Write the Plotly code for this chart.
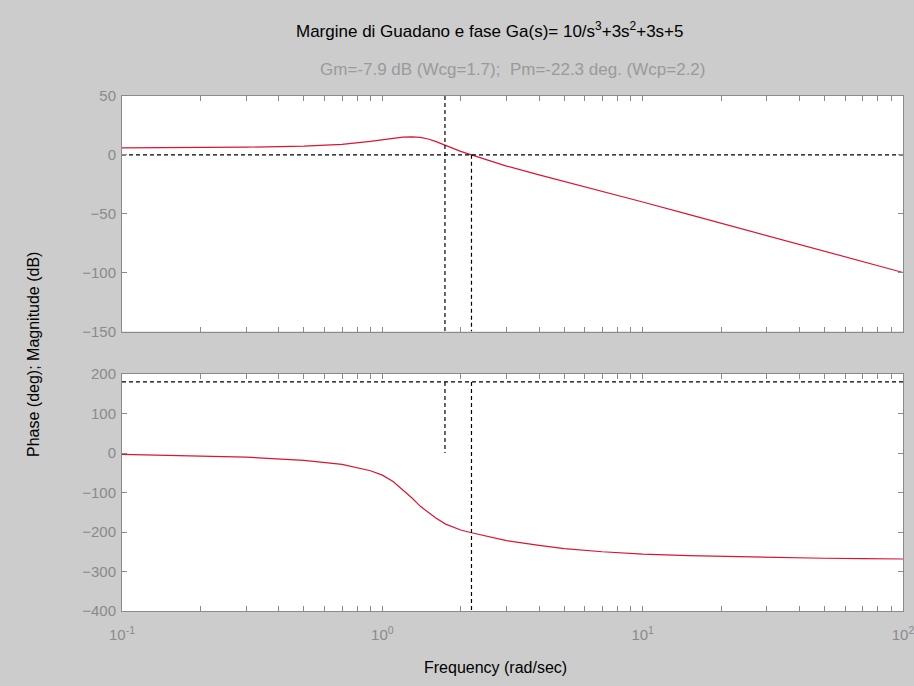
import plotly.graph_objects as go

# ---- data ----
freq = [0.1, 0.2, 0.3, 0.5, 0.7, 0.9, 1.0, 1.1, 1.2, 1.3, 1.4, 1.5, 1.6, 1.75,
        2.0, 2.2, 2.5, 3.0, 4.0, 5.0, 7.0, 10, 15, 20, 30, 50, 70, 100]
mag_db = [6.0, 6.2, 6.5, 7.5, 9.0, 11.5, 12.5, 14.0, 15.0, 15.3, 14.8, 13.5, 11.5, 8.0,
          3.0, 0.0, -4.0, -9.5, -17.0, -22.5, -31.0, -40.0, -50.5, -58.0, -68.5, -81.9, -90.7, -99.9]
phase_deg = [-3.5, -7, -10.5, -18.5, -29, -45, -56, -72, -93, -114, -135, -151, -164, -180,
             -195, -202, -211, -222, -234, -242, -250, -256, -260, -262, -264.5, -266.5, -267.5, -268.3]

wcg = 1.74
wcp = 2.2
mag_ticks = [-150, -100, -50, 0, 50]
phase_ticks = [-400, -300, -200, -100, 0, 100, 200]
decades = [0.1, 1, 10, 100]
decade_labels = ["10<sup>-1</sup>", "10<sup>0</sup>", "10<sup>1</sup>", "10<sup>2</sup>"]

title_text = "Margine di Guadano e fase Ga(s)= 10/s<sup>3</sup>+3s<sup>2</sup>+3s+5"
subtitle_text = "Gm=-7.9 dB (Wcg=1.7);  Pm=-22.3 deg. (Wcp=2.2)"

# ---- figure ----
W, H = 914, 686
L, R, T, B = 122, 11, 96, 75
ph = H - T - B

def py(ypix):
    return (H - B - ypix) / ph

def px(xpix):
    return (xpix - L) / (W - L - R)

red = "#dc1430"
dash = dict(color="black", width=1.2, dash="4px,3px")
FONT = "Liberation Sans, Arial, sans-serif"

minor_vals = []
minor_text = []
for d in [0.1, 1, 10]:
    for k in range(1, 10):
        minor_vals.append(d * k)
        minor_text.append(decade_labels[decades.index(d)] if k == 1 else "")
minor_vals.append(100)
minor_text.append(decade_labels[3])

fig = go.Figure()
# magnitude
fig.add_trace(go.Scatter(x=freq, y=mag_db, mode="lines", line=dict(color=red, width=1.2),
                         xaxis="x", yaxis="y", showlegend=False))
fig.add_trace(go.Scatter(x=[freq[0], freq[-1]], y=[0, 0], mode="lines", line=dash,
                         xaxis="x", yaxis="y", showlegend=False))
fig.add_trace(go.Scatter(x=[wcg, wcg], y=[mag_ticks[-1], mag_ticks[0]], mode="lines", line=dash,
                         xaxis="x", yaxis="y", showlegend=False))
fig.add_trace(go.Scatter(x=[wcp, wcp], y=[0, mag_ticks[0]], mode="lines", line=dash,
                         xaxis="x", yaxis="y", showlegend=False))
# phase
fig.add_trace(go.Scatter(x=freq, y=phase_deg, mode="lines", line=dict(color=red, width=1.2),
                         xaxis="x2", yaxis="y2", showlegend=False))
fig.add_trace(go.Scatter(x=[freq[0], freq[-1]], y=[180, 180], mode="lines", line=dash,
                         xaxis="x2", yaxis="y2", showlegend=False))
fig.add_trace(go.Scatter(x=[wcg, wcg], y=[180, 0], mode="lines", line=dash,
                         xaxis="x2", yaxis="y2", showlegend=False))
fig.add_trace(go.Scatter(x=[wcp, wcp], y=[180, phase_ticks[0]], mode="lines", line=dash,
                         xaxis="x2", yaxis="y2", showlegend=False))

axis_common = dict(showline=True, linecolor="#8a8a8a", linewidth=1, mirror="ticks",
                   ticks="inside", ticklen=5, tickcolor="#8a8a8a", showgrid=False,
                   zeroline=False, automargin=False,
                   tickfont=dict(family=FONT, size=15, color="#8a8a8a"))

fig.update_layout(
    width=W, height=H,
    margin=dict(l=L, r=R, t=T, b=B, autoexpand=False),
    paper_bgcolor="#cccccc", plot_bgcolor="white",
    font=dict(family=FONT, size=15, color="black"),
    xaxis=dict(type="log", range=[-1, 2], domain=[0, 1], anchor="y",
               tickvals=minor_vals, ticktext=[""] * len(minor_vals), **axis_common),
    yaxis=dict(range=[-150, 50], domain=[py(331.5), 1], anchor="x",
               tickvals=mag_ticks, ticklabelstandoff=2, **axis_common),
    xaxis2=dict(type="log", range=[-1, 2], domain=[0, 1], anchor="y2",
                tickvals=minor_vals, ticktext=minor_text, ticklabelstandoff=10,
                ticklabeloverflow="allow", **axis_common),
    yaxis2=dict(range=[-400, 200], domain=[0, py(374)], anchor="x2",
                tickvals=phase_ticks, ticklabelstandoff=2, **axis_common),
    annotations=[
        dict(text=title_text, x=px(490), y=py(30), xref="paper", yref="paper",
             showarrow=False, font=dict(family=FONT, size=17, color="black"),
             xanchor="center", yanchor="middle"),
        dict(text=subtitle_text, x=px(513), y=py(70), xref="paper", yref="paper",
             showarrow=False, font=dict(family=FONT, size=17, color="#9a9a9a"),
             xanchor="center", yanchor="middle"),
        dict(text="Frequency (rad/sec)", x=px(495), y=py(667), xref="paper", yref="paper",
             showarrow=False, font=dict(family=FONT, size=16, color="black"),
             xanchor="center", yanchor="middle"),
        dict(text="Phase (deg); Magnitude (dB)", x=px(33), y=py(355), xref="paper",
             yref="paper", showarrow=False, textangle=-90,
             font=dict(family=FONT, size=16, color="black"),
             xanchor="center", yanchor="middle"),
    ],
)

fig.write_html("out.html")
